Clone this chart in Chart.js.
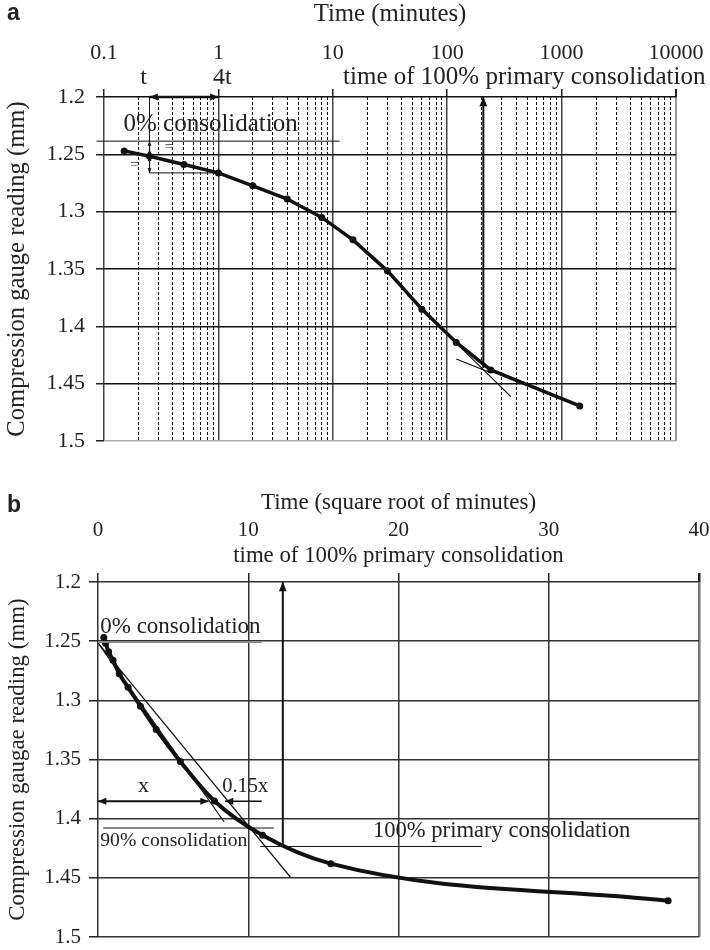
<!DOCTYPE html>
<html>
<head>
<meta charset="utf-8">
<script src="https://cdn.jsdelivr.net/npm/chart.js@4.4.1/dist/chart.umd.min.js"></script>
<style>
  body { margin: 0; background: #fff; width: 710px; height: 950px; position: relative; overflow: hidden; }
  canvas { position: absolute; left: 0; }
  #chartA { top: 0; }
  #chartB { top: 480px; }
</style>
</head>
<body>
<canvas id="chartA" width="710" height="470" style="width:710px;height:470px"></canvas>
<canvas id="chartB" width="710" height="470" style="width:710px;height:470px"></canvas>
<script>
// readings from the oedometer test
const timeMinutes = [0.15, 0.25, 0.5, 1, 2, 4, 8, 15, 30, 60, 120, 240, 1440];
const gaugeReading = [1.247, 1.2517, 1.2589, 1.2662, 1.2775, 1.289, 1.305, 1.3246, 1.3516, 1.385, 1.414, 1.438, 1.4694];
const sqrtTime = timeMinutes.map(Math.sqrt);

const logTicks = [0.1, 1, 10, 100, 1000, 10000];
const sqrtTicks = [0, 10, 20, 30, 40];
const readingTicks = [1.2, 1.25, 1.3, 1.35, 1.4, 1.45, 1.5];

// minor grid positions for the log axis (2..9 in each decade)
const minorLogTicks = [];
for (let d = 0.1; d < 10000; d *= 10) {
  for (let m = 2; m <= 9; m++) minorLogTicks.push(+(d * m).toPrecision(3));
}

const serif = "'Liberation Serif', 'Times New Roman', serif";
Chart.defaults.font.family = serif;
Chart.defaults.font.size = 22;
Chart.defaults.color = '#222';

// drawing helpers
function P(chart, x, y) {
  return [chart.scales.x.getPixelForValue(x), chart.scales.y.getPixelForValue(y)];
}
function seg(ctx, a, b, w, color) {
  ctx.save();
  ctx.strokeStyle = color || '#111';
  ctx.lineWidth = w || 1;
  ctx.beginPath();
  ctx.moveTo(a[0], a[1]);
  ctx.lineTo(b[0], b[1]);
  ctx.stroke();
  ctx.restore();
}
function head(ctx, tip, from, size) {
  const ang = Math.atan2(tip[1] - from[1], tip[0] - from[0]);
  ctx.save();
  ctx.fillStyle = '#111';
  ctx.beginPath();
  ctx.moveTo(tip[0], tip[1]);
  ctx.lineTo(tip[0] - size * Math.cos(ang - 0.4), tip[1] - size * Math.sin(ang - 0.4));
  ctx.lineTo(tip[0] - size * Math.cos(ang + 0.4), tip[1] - size * Math.sin(ang + 0.4));
  ctx.closePath();
  ctx.fill();
  ctx.restore();
}
function arrow(ctx, a, b, w, size, both) {
  seg(ctx, a, b, w);
  head(ctx, b, a, size);
  if (both) head(ctx, a, b, size);
}
function text(ctx, str, x, y, size, align, font) {
  ctx.save();
  ctx.font = (font || (size + 'px ' + serif));
  ctx.fillStyle = '#222';
  ctx.textAlign = align || 'left';
  ctx.textBaseline = 'alphabetic';
  ctx.fillText(str, x, y);
  ctx.restore();
}

const notesA = {
  id: 'notesA',
  beforeDatasetsDraw(chart) {
    const ctx = chart.ctx;
    // tangents
    seg(ctx, P(chart, 120, 1.4285), P(chart, 240, 1.4405), 1.2);
    seg(ctx, P(chart, 45, 1.373), P(chart, 360, 1.4613), 1.2);
  },
  afterDatasetsDraw(chart) {
    const ctx = chart.ctx;
    const top = chart.chartArea.top;
    // 0% consolidation
    seg(ctx, P(chart, 0.086, 1.2385), P(chart, 11.5, 1.2385), 1);
    const t0 = P(chart, 0.148, 1.2293);
    text(ctx, '0% consolidation', t0[0], t0[1], 25);
    // t / 4t construction
    seg(ctx, P(chart, 0.25, 1.2), P(chart, 0.25, 1.2662), 1);
    seg(ctx, P(chart, 0.25, 1.2662), P(chart, 1, 1.2662), 1);
    arrow(ctx, P(chart, 0.25, 1.2), P(chart, 1, 1.2), 2.5, 9, true);
    arrow(ctx, P(chart, 0.25, 1.2385), P(chart, 0.25, 1.2517), 1.2, 5, true);
    arrow(ctx, P(chart, 0.25, 1.2517), P(chart, 0.25, 1.2662), 1.2, 5, true);
    const e1 = P(chart, 0.185, 1.2625), e2 = P(chart, 0.37, 1.247);
    text(ctx, '=', e1[0], e1[1], 15, 'center');
    text(ctx, '=', e2[0], e2[1], 15, 'center');
    // labels above the plot
    text(ctx, 't', chart.scales.x.getPixelForValue(0.222), top - 13.5, 24, 'center');
    text(ctx, '4t', chart.scales.x.getPixelForValue(1.08), top - 13.5, 24, 'center');
    text(ctx, 'time of 100% primary consolidation', chart.scales.x.getPixelForValue(12.3), top - 13.5, 25);
    // time of 100% primary consolidation
    arrow(ctx, P(chart, 207, 1.4363), P(chart, 207, 1.2), 2, 10);
    // panel letter
    text(ctx, 'a', 7, 20, 0, 'left', "bold 23px 'Liberation Sans', Arial, sans-serif");
  }
};

const notesB = {
  id: 'notesB',
  beforeDatasetsDraw(chart) {
    const ctx = chart.ctx;
    seg(ctx, P(chart, 0, 1.2515), P(chart, 8.4, 1.4028), 1.2);
    seg(ctx, P(chart, 0, 1.2515), P(chart, 12.8, 1.4493), 1.2);
  },
  afterDatasetsDraw(chart) {
    const ctx = chart.ctx;
    const top = chart.chartArea.top;
    seg(ctx, P(chart, 0, 1.2507), P(chart, 10.9, 1.2507), 2, '#888');
    let p = P(chart, 0.15, 1.2431);
    text(ctx, '0% consolidation', p[0], p[1], 23);
    // x and 0.15x
    arrow(ctx, P(chart, 0, 1.3853), P(chart, 7.36, 1.3853), 2, 9, true);
    p = P(chart, 3.03, 1.3774);
    text(ctx, 'x', p[0], p[1], 22, 'center');
    arrow(ctx, P(chart, 10.9, 1.3853), P(chart, 8.45, 1.3853), 1.5, 9);
    p = P(chart, 9.8, 1.3774);
    text(ctx, '0.15x', p[0], p[1], 20.5, 'center');
    // 90% consolidation
    seg(ctx, P(chart, 0.35, 1.4079), P(chart, 11.7, 1.4079), 1);
    p = P(chart, 0.15, 1.4231);
    text(ctx, '90% consolidation', p[0], p[1], 19.7);
    // 100% primary consolidation
    arrow(ctx, P(chart, 12.3, 1.4235), P(chart, 12.3, 1.2), 2, 10);
    seg(ctx, P(chart, 10.8, 1.4235), P(chart, 25.55, 1.4235), 1);
    p = P(chart, 18.3, 1.4154);
    text(ctx, '100% primary consolidation', p[0], p[1], 22.6);
    text(ctx, 'time of 100% primary consolidation', chart.scales.x.getPixelForValue(9.0), top - 20.3, 22.8);
    text(ctx, 'b', 7, 32, 0, 'left', "bold 23px 'Liberation Sans', Arial, sans-serif");
  }
};

const yLabel = v => String(+(+v).toFixed(2));

new Chart(document.getElementById('chartA'), {
  type: 'line',
  data: {
    datasets: [{
      data: timeMinutes.map((t, i) => ({ x: t, y: gaugeReading[i] })),
      borderColor: '#111',
      borderWidth: 3.5,
      pointRadius: 3.5,
      pointBackgroundColor: '#111',
      pointBorderWidth: 0,
      tension: 0
    }]
  },
  options: {
    responsive: false,
    animation: false,
    devicePixelRatio: 1,
    layout: { padding: { left: 0, top: 0, right: 34, bottom: 29 } },
    plugins: { legend: { display: false }, tooltip: { enabled: false } },
    scales: {
      x: {
        type: 'logarithmic',
        position: 'top',
        min: 0.1,
        max: 10000,
        afterBuildTicks: s => { s.ticks = logTicks.map(v => ({ value: v })); },
        ticks: { callback: v => String(v), padding: 23, autoSkip: false, maxRotation: 0 },
        grid: {
          color: c => c.tick && c.tick.value === 10000 ? '#999' : '#444',
          lineWidth: c => c.tick && c.tick.value === 10000 ? 2 : 1.5,
          tickLength: 8,
          tickColor: '#222'
        },
        border: { display: false },
        title: { display: true, text: 'Time (minutes)', font: { size: 24.8 }, padding: { top: 0, bottom: 0 } },
        afterFit: s => { s.height = 97; s.paddingLeft = 0; s.paddingRight = 0; }
      },
      x2: {
        type: 'logarithmic',
        position: 'bottom',
        min: 0.1,
        max: 10000,
        afterBuildTicks: s => { s.ticks = minorLogTicks.map(v => ({ value: v })); },
        ticks: { display: false },
        grid: { color: '#111', lineWidth: 1, drawTicks: false },
        border: { display: false, dash: [3, 2] },
        afterFit: s => { s.height = 0; s.paddingLeft = 0; s.paddingRight = 0; }
      },
      y: {
        type: 'linear',
        reverse: true,
        min: 1.2,
        max: 1.5,
        afterBuildTicks: s => { s.ticks = readingTicks.map(v => ({ value: v })); },
        ticks: { callback: yLabel, padding: 11 },
        grid: {
          color: c => c.tick && c.tick.value === 1.5 ? '#aaa' : '#111',
          lineWidth: 1.5,
          tickLength: 8,
          tickColor: '#222'
        },
        border: { display: false },
        title: { display: true, text: 'Compression gauge reading (mm)', font: { size: 24.6 }, padding: { top: 3, bottom: 0 } },
        afterFit: s => { s.width = 104; s.paddingTop = 0; s.paddingBottom = 0; }
      }
    }
  },
  plugins: [notesA]
});

new Chart(document.getElementById('chartB'), {
  type: 'line',
  data: {
    datasets: [{
      data: sqrtTime.map((t, i) => ({ x: t, y: gaugeReading[i] })),
      borderColor: '#111',
      borderWidth: 4,
      pointRadius: 3.5,
      pointBackgroundColor: '#111',
      pointBorderWidth: 0,
      cubicInterpolationMode: 'monotone'
    }]
  },
  options: {
    responsive: false,
    animation: false,
    devicePixelRatio: 1,
    layout: { padding: { left: 0, top: 0, right: 11, bottom: 13 } },
    plugins: { legend: { display: false }, tooltip: { enabled: false } },
    scales: {
      x: {
        type: 'linear',
        position: 'top',
        min: 0,
        max: 40,
        afterBuildTicks: s => { s.ticks = sqrtTicks.map(v => ({ value: v })); },
        ticks: { font: { size: 21 }, padding: 30.4, autoSkip: false, maxRotation: 0 },
        grid: {
          color: c => c.tick && c.tick.value === 40 ? '#777' : '#333',
          lineWidth: c => c.tick && c.tick.value === 40 ? 2.5 : 1.5,
          tickLength: 9,
          tickColor: '#222'
        },
        border: { display: false },
        title: { display: true, text: 'Time (square root of minutes)', font: { size: 23 }, padding: { top: 9.5, bottom: 0 } },
        afterFit: s => { s.height = 102; s.paddingLeft = 0; s.paddingRight = 0; }
      },
      y: {
        type: 'linear',
        reverse: true,
        min: 1.2,
        max: 1.5,
        afterBuildTicks: s => { s.ticks = readingTicks.map(v => ({ value: v })); },
        ticks: { callback: yLabel, font: { size: 21 }, padding: 8 },
        grid: { color: '#333', lineWidth: 1.5, tickLength: 9, tickColor: '#222' },
        border: { display: false },
        title: { display: true, text: 'Compression gaugae reading (mm)', font: { size: 22.9 }, padding: { top: 4.7, bottom: 0 } },
        afterFit: s => { s.width = 98; s.paddingTop = 0; s.paddingBottom = 0; }
      }
    }
  },
  plugins: [notesB]
});
</script>
</body>
</html>
